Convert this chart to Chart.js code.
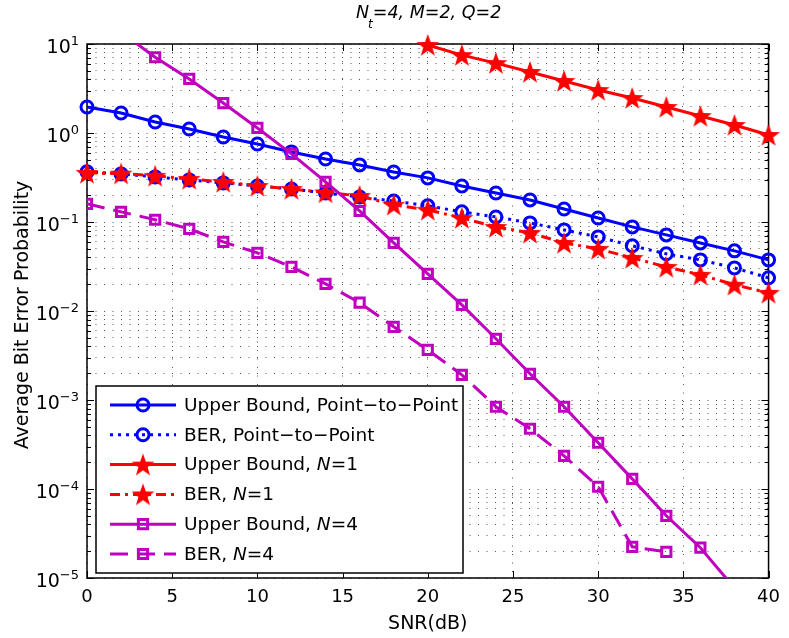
<!DOCTYPE html>
<html>
<head>
<meta charset="utf-8">
<script src="https://cdn.jsdelivr.net/npm/chart.js@4.4.1/dist/chart.umd.min.js"></script>
<style>
  html, body { margin: 0; padding: 0; background: #fff; }
  #wrap { width: 789px; height: 638px; position: relative; }
</style>
</head>
<body>
<div id="wrap"><canvas id="berChart"></canvas></div>
<script>
// SNR in dB
const snr = [0, 2, 4, 6, 8, 10, 12, 14, 16, 18, 20, 22, 24, 26, 28, 30, 32, 34, 36, 38, 40];

// values
const ubP2P = [1.96, 1.68, 1.33, 1.11, 0.903, 0.753, 0.613, 0.511, 0.438, 0.365, 0.313,
  0.254, 0.212, 0.177, 0.140, 0.111, 0.0881, 0.0716, 0.0582, 0.0474, 0.0375];
const berP2P = [0.366, 0.347, 0.321, 0.297, 0.275, 0.254, 0.235, 0.212, 0.191, 0.172, 0.152,
  0.130, 0.114, 0.0977, 0.0815, 0.068, 0.054, 0.0439, 0.0375, 0.0305, 0.0236];
const ubN1 = [null, null, null, null, null, null, null, null, null, null, 9.75,
  7.5, 6.1, 4.85, 3.84, 3.04, 2.47, 1.96, 1.55, 1.23, 0.95];
const berN1 = [0.356, 0.35, 0.33, 0.305, 0.282, 0.254, 0.235, 0.215, 0.196, 0.156, 0.137,
  0.111, 0.088, 0.0755, 0.0582, 0.0499, 0.0395, 0.0313, 0.0255, 0.0197, 0.016];
const ubN4 = [27, 13.6, 7.1, 4.05, 2.17, 1.14, 0.582, 0.282, 0.133, 0.0582, 0.0261,
  0.0117, 4.87e-3, 1.97e-3, 8.4e-4, 3.31e-4, 1.30e-4, 5.0e-5, 2.19e-5, 7.7e-6, 2.4e-6];
const berN4 = [0.16, 0.13, 0.106, 0.0837, 0.0598, 0.045, 0.0313, 0.0202, 0.0124, 6.64e-3, 3.66e-3,
  1.92e-3, 8.4e-4, 4.75e-4, 2.36e-4, 1.06e-4, 2.24e-5, 1.97e-5, null, null, null];

// legend texts: plain, italic, plain ...
const seriesLabels = [
  ['Upper Bound, Point\u2212to\u2212Point'],
  ['BER, Point\u2212to\u2212Point'],
  ['Upper Bound, ', 'N', '=1'],
  ['BER, ', 'N', '=1'],
  ['Upper Bound, ', 'N', '=4'],
  ['BER, ', 'N', '=4']
];

const xTicks = [0, 5, 10, 15, 20, 25, 30, 35, 40];
const yDecades = [-5, -4, -3, -2, -1, 0, 1];

const FONT = '"DejaVu Sans", sans-serif';
const BLUE = '#0000ff';
const RED = '#ff0000';
const MAGENTA = '#bf00bf';

// filled pentagram marker
function makeStar(r, color) {
  const c = document.createElement('canvas');
  const s = Math.ceil(r * 2 + 2);
  c.width = s; c.height = s;
  const g = c.getContext('2d');
  const inner = r * 0.40;
  g.beginPath();
  for (let i = 0; i < 10; i++) {
    const rad = i % 2 === 0 ? r : inner;
    const a = -Math.PI / 2 + i * Math.PI / 5;
    const px = s / 2 + rad * Math.cos(a);
    const py = s / 2 + 1 + rad * Math.sin(a);
    if (i === 0) g.moveTo(px, py); else g.lineTo(px, py);
  }
  g.closePath();
  g.fillStyle = color;
  g.fill();
  return c;
}
const star = makeStar(12, RED);

function series(values, color, dash, style, clip) {
  return {
    data: values,
    borderColor: color,
    borderWidth: 3,
    borderDash: dash,
    borderCapStyle: 'butt',
    pointStyle: style,
    pointRadius: style === 'rect' ? 6.5 : 6,
    pointBorderWidth: 3,
    pointBorderColor: color,
    pointBackgroundColor: 'rgba(0,0,0,0)',
    tension: 0,
    spanGaps: false,
    clip: clip
  };
}

const datasets = [
  series(ubP2P, BLUE, [], 'circle', 12),
  series(berP2P, BLUE, [3, 5], 'circle', 12),
  series(ubN1, RED, [], star, {left: 0, top: 14, right: 14, bottom: 0}),
  series(berN1, RED, [10, 5, 3, 5], star, 14),
  series(ubN4, MAGENTA, [], 'rect', 0),
  series(berN4, MAGENTA, [18, 9], 'rect', 0)
];
// later series drawn on top, like the original
datasets.forEach((d, i) => { d.order = datasets.length - i; });

function drawMixed(ctx, parts, x, y, size) {
  parts.forEach((p, i) => {
    ctx.font = (i % 2 === 1 ? 'oblique ' : '') + size + 'px ' + FONT;
    ctx.fillText(p, x, y);
    x += ctx.measureText(p).width;
  });
}

const decorations = {
  id: 'decorations',
  beforeDatasetsDraw(chart) {
    const ctx = chart.ctx;
    const {left, right, top, bottom} = chart.chartArea;
    const x = chart.scales.x, y = chart.scales.y;
    ctx.save();
    ctx.strokeStyle = '#000';
    ctx.lineWidth = 1.5;
    ctx.strokeRect(left, top, right - left, bottom - top);
    ctx.lineWidth = 1;
    ctx.beginPath();
    xTicks.forEach(v => {
      const px = Math.round(x.getPixelForValue(v)) + 0.5;
      ctx.moveTo(px, bottom); ctx.lineTo(px, bottom - 7);
      ctx.moveTo(px, top); ctx.lineTo(px, top + 7);
    });
    y.ticks.forEach(t => {
      const py = Math.round(y.getPixelForValue(t.value)) + 0.5;
      const len = t.major ? 7 : 4;
      ctx.moveTo(left, py); ctx.lineTo(left + len, py);
      ctx.moveTo(right, py); ctx.lineTo(right - len, py);
    });
    ctx.stroke();
    ctx.restore();
  },
  afterDraw(chart) {
    const ctx = chart.ctx;
    const {left, right} = chart.chartArea;
    const y = chart.scales.y;
    ctx.save();
    ctx.fillStyle = '#000';

    // y tick labels 10^n
    yDecades.forEach(e => {
      const py = y.getPixelForValue(Math.pow(10, e));
      const exp = e < 0 ? '\u2212' + (-e) : String(e);
      ctx.font = '13px ' + FONT;
      const ew = ctx.measureText(exp).width;
      ctx.textAlign = 'left';
      ctx.textBaseline = 'alphabetic';
      ctx.fillText(exp, 79 - ew, py + 1);
      ctx.font = '19px ' + FONT;
      ctx.textAlign = 'right';
      ctx.fillText('10', 79 - ew, py + 9);
    });

    // axis labels
    ctx.textAlign = 'center';
    ctx.textBaseline = 'alphabetic';
    ctx.font = '19px ' + FONT;
    ctx.fillText('SNR(dB)', (left + right) / 2, 629);
    ctx.save();
    ctx.translate(28, 315);
    ctx.rotate(-Math.PI / 2);
    ctx.fillText('Average Bit Error Probability', 0, 0);
    ctx.restore();

    // title N_t=4, M=2, Q=2
    ctx.textAlign = 'left';
    let tx = 356;
    ctx.font = 'oblique 17.5px ' + FONT;
    ctx.fillText('N', tx, 18);
    tx += ctx.measureText('N').width - 1;
    ctx.font = 'oblique 12px ' + FONT;
    ctx.fillText('t', tx, 28);
    tx += ctx.measureText('t').width;
    ctx.font = 'oblique 17.5px ' + FONT;
    ctx.fillText('=4, M=2, Q=2', tx, 18);

    // legend
    const lx = 96, ly = 386, lw = 367, lh = 187;
    ctx.fillStyle = '#fff';
    ctx.fillRect(lx, ly, lw, lh);
    ctx.strokeStyle = '#000';
    ctx.lineWidth = 1.5;
    ctx.strokeRect(lx, ly, lw, lh);
    chart.data.datasets.forEach((d, i) => {
      const ry = 405 + i * 29.8;
      ctx.save();
      ctx.strokeStyle = d.borderColor;
      ctx.lineWidth = d.borderWidth;
      ctx.setLineDash(d.borderDash);
      ctx.beginPath();
      ctx.moveTo(110, ry); ctx.lineTo(176, ry);
      ctx.stroke();
      ctx.setLineDash([]);
      if (d.pointStyle === star) {
        ctx.drawImage(star, 143 - star.width / 2, ry - star.height / 2);
      } else {
        ctx.fillStyle = 'rgba(0,0,0,0)';
        ctx.lineWidth = d.pointBorderWidth;
        Chart.helpers.drawPoint(ctx, {pointStyle: d.pointStyle, radius: d.pointRadius, borderWidth: d.pointBorderWidth, rotation: 0}, 143, ry);
      }
      ctx.restore();
      ctx.fillStyle = '#000';
      ctx.textBaseline = 'middle';
      drawMixed(ctx, seriesLabels[i], 184, ry + 1, 18.5);
    });
    ctx.restore();
  }
};

const gridDots = [1, 7.5];

new Chart(document.getElementById('berChart'), {
  type: 'line',
  data: { datasets: datasets.map(d => ({...d, data: d.data.map((v, i) => ({x: snr[i], y: v}))})) },
  options: {
    responsive: true,
    maintainAspectRatio: false,
    animation: false,
    events: [],
    layout: { padding: { top: 44, right: 17, left: 0, bottom: 0 } },
    plugins: { legend: { display: false }, tooltip: { enabled: false }, title: { display: false } },
    scales: {
      x: {
        type: 'linear',
        min: 0, max: 40,
        afterBuildTicks: s => { s.ticks = xTicks.map(v => ({value: v})); },
        afterFit: s => { s.height = 60; },
        ticks: { color: '#000', font: { family: FONT, size: 18 }, padding: 9, maxRotation: 0 },
        grid: { color: '#555', lineWidth: 1, drawTicks: false },
        border: { display: false, dash: gridDots }
      },
      y: {
        type: 'logarithmic',
        min: 1e-5, max: 10,
        afterBuildTicks: s => {
          const t = [];
          yDecades.forEach(e => {
            for (let m = 1; m <= 9; m++) {
              if (e === 1 && m > 1) break;
              t.push({value: m * Math.pow(10, e), major: m === 1});
            }
          });
          s.ticks = t;
        },
        afterFit: s => { s.width = 87; },
        ticks: { display: false, autoSkip: false },
        grid: { color: '#555', lineWidth: 1, drawTicks: false },
        border: { display: false, dash: gridDots }
      }
    }
  },
  plugins: [decorations]
});
</script>
</body>
</html>
